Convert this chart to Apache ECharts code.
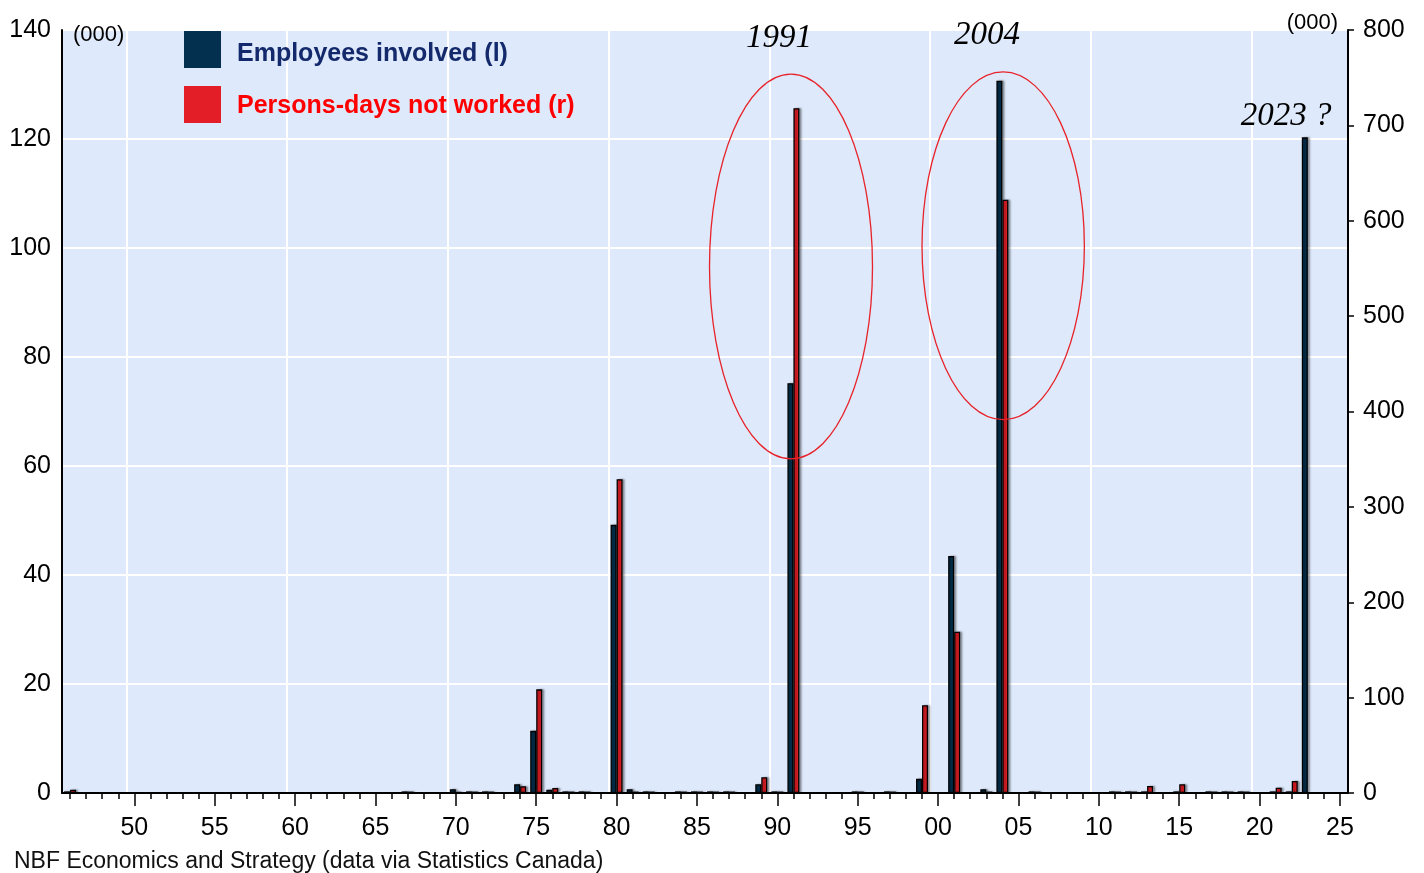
<!DOCTYPE html>
<html>
<head>
<meta charset="utf-8">
<script src="https://cdn.jsdelivr.net/npm/echarts@6/dist/echarts.min.js"></script>
<style>
html,body{margin:0;padding:0;background:#ffffff;}
#c{width:1424px;height:873px;}
</style>
</head>
<body>
<div id="c"></div>
<script>
// ---------- DATA ----------
const years = ['1946','1947','1948','1949','1950','1951','1952','1953','1954','1955',
  '1956','1957','1958','1959','1960','1961','1962','1963','1964','1965',
  '1966','1967','1968','1969','1970','1971','1972','1973','1974','1975',
  '1976','1977','1978','1979','1980','1981','1982','1983','1984','1985',
  '1986','1987','1988','1989','1990','1991','1992','1993','1994','1995',
  '1996','1997','1998','1999','2000','2001','2002','2003','2004','2005',
  '2006','2007','2008','2009','2010','2011','2012','2013','2014','2015',
  '2016','2017','2018','2019','2020','2021','2022','2023','2024','2025'];

// Employees involved, thousands (left axis)
const employees = [0.3,null,null,null,null,null,null,null,null,null,
  null,null,null,null,null,null,null,null,null,null,
  null,0.3,null,null,0.7,0.3,0.3,null,1.6,11.4,
  0.6,0.3,0.3,null,49.2,0.7,0.3,null,0.3,0.3,
  0.3,0.3,null,1.6,0.3,75.2,null,null,null,0.3,
  null,0.3,null,2.6,null,43.5,null,0.7,130.7,null,
  0.3,null,null,null,null,0.3,0.3,0.3,null,0.3,
  null,0.3,0.3,0.3,null,0.3,0.3,120.3,null,null];

// Person-days not worked, thousands (right axis)
const personDays = [3.5,null,null,null,null,null,null,null,null,null,
  null,null,null,null,null,null,null,null,null,null,
  null,1.5,null,null,1.2,1.5,1.5,null,7,108.7,
  5.2,1.5,1.5,null,329,1.5,1.5,null,1.5,1.5,
  1.5,1.5,null,16.5,1.5,718,null,null,null,1.5,
  null,1.5,null,92,null,169,null,1.5,622,null,
  1.5,null,null,null,null,1.5,1.5,7.3,null,9.1,
  null,1.5,1.5,1.5,null,5.6,12.6,null,null,null];

const seriesNames = ['Employees involved (l)', 'Persons-days not worked (r)'];
const leftTicks = {min:0, max:140, interval:20};
const rightTicks = {min:0, max:800, interval:100};
const unitLabel = '(000)';
const sourceText = 'NBF Economics and Strategy (data via Statistics Canada)';
const callouts = ['1991', '2004', '2023 ?'];

// ---------- STYLE / LAYOUT ----------
const SANS = '"Liberation Sans", Arial, sans-serif';
const SERIF = '"Liberation Serif", "Times New Roman", serif';
const NAVY = '#02304e';
const RED = '#e41e26';
const GRID = {left:62, right:76, top:30, bottom:80};

const option = {
  animation: false,
  backgroundColor: '#ffffff',
  textStyle: {fontFamily: SANS},
  grid: {
    left: GRID.left, right: GRID.right, top: GRID.top, bottom: GRID.bottom,
    show: true, backgroundColor: '#dee9fb', borderWidth: 0,
    containLabel: false, outerBoundsMode: 'none'
  },
  legend: {
    left: 184, top: 31, orient: 'vertical', padding: 0,
    itemWidth: 37, itemHeight: 37, itemGap: 18,
    icon: 'rect', selectedMode: false,
    itemStyle: {borderWidth: 0, shadowBlur: 0, shadowOffsetX: 0, shadowOffsetY: 0},
    formatter: function (name) { return (name === seriesNames[0] ? '{e|' : '{p|') + name + '}'; },
    textStyle: {
      fontSize: 25, fontWeight: 'bold', fontFamily: SANS,
      rich: {
        e: {fontSize: 25, fontWeight: 'bold', fontFamily: SANS, color: '#13296b', padding: [9, 0, 0, 11]},
        p: {fontSize: 25, fontWeight: 'bold', fontFamily: SANS, color: '#ff0000', padding: [4, 0, 0, 11]}
      }
    },
    data: [seriesNames[0], seriesNames[1]]
  },
  xAxis: [
    {
      type: 'category', data: years, position: 'bottom', boundaryGap: true,
      axisLine: {show: true, lineStyle: {color: '#000', width: 2}},
      axisTick: {show: true, alignWithLabel: true, interval: 0, length: 6, lineStyle: {color: '#000', width: 1.5}},
      axisLabel: {
        show: true, interval: function (i, v) { return (+v) % 5 === 0; },
        formatter: function (v) { return String(v).slice(2); },
        fontSize: 25, color: '#000', margin: 23, fontFamily: SANS
      },
      splitLine: {show: true, interval: function (i, v) { return (+v) % 10 === 0; },
        lineStyle: {color: '#ffffff', width: 2}}
    },
    {
      type: 'category', data: years, position: 'bottom', boundaryGap: true,
      axisLine: {show: false},
      axisTick: {show: true, alignWithLabel: true,
        interval: function (i, v) { return (+v) % 5 === 0; },
        length: 13, lineStyle: {color: '#000', width: 1.5}},
      axisLabel: {show: false},
      splitLine: {show: false}
    }
  ],
  yAxis: [
    {
      type: 'value', position: 'left',
      min: leftTicks.min, max: leftTicks.max, interval: leftTicks.interval,
      axisLine: {show: true, lineStyle: {color: '#000', width: 2}},
      axisTick: {show: false},
      axisLabel: {fontSize: 25, color: '#000', margin: 11, fontFamily: SANS},
      splitLine: {show: true, lineStyle: {color: '#ffffff', width: 2}}
    },
    {
      type: 'value', position: 'right',
      min: rightTicks.min, max: rightTicks.max, interval: rightTicks.interval,
      axisLine: {show: true, lineStyle: {color: '#000', width: 2}},
      axisTick: {show: true, inside: false, length: 6, lineStyle: {color: '#000', width: 1.5}},
      axisLabel: {fontSize: 25, color: '#000', margin: 15, fontFamily: SANS},
      splitLine: {show: false}
    }
  ],
  series: [
    {
      name: seriesNames[0], type: 'bar', xAxisIndex: 0, yAxisIndex: 0,
      data: employees, barWidth: 6, barGap: '0%',
      itemStyle: {color: NAVY, borderColor: '#000', borderWidth: 1.3,
        shadowColor: 'rgba(0,0,0,0.35)', shadowBlur: 2, shadowOffsetX: 2, shadowOffsetY: 0}
    },
    {
      name: seriesNames[1], type: 'bar', xAxisIndex: 0, yAxisIndex: 1,
      data: personDays, barWidth: 6, barGap: '0%',
      itemStyle: {color: RED, borderColor: '#000', borderWidth: 1.3,
        shadowColor: 'rgba(0,0,0,0.35)', shadowBlur: 2, shadowOffsetX: 2, shadowOffsetY: 0}
    }
  ]
};

const chart = echarts.init(document.getElementById('c'), null, {renderer: 'canvas', width: 1424, height: 873});
chart.setOption(option);

// ---------- ANNOTATIONS (positioned in data space, converted by the chart) ----------
function px(cat, v) { return chart.convertToPixel({xAxisIndex: 0, yAxisIndex: 0}, [cat, v]); }
const band = px('1992', 0)[0] - px('1991', 0)[0];
const unit = px('1991', 0)[1] - px('1991', 1)[1];
function at(cat, dx, v) { const p = px(cat, v); return [p[0] + dx * band, p[1]]; }

const ellipseSpecs = [
  {cat: '1991', dx: -0.15, v: 96.6, rx: 5.07, ry: 35.3},
  {cat: '2004', dx: 0.05, v: 100.4, rx: 5.05, ry: 31.9}
];
const textSpecs = [
  {text: callouts[0], cat: '1991', dx: -0.9, v: 138.5},
  {text: callouts[1], cat: '2004', dx: -0.95, v: 139.0},
  {text: callouts[2], cat: '2023', dx: -1.35, v: 124.2}
];

const graphics = [];
ellipseSpecs.forEach(function (e) {
  const c = at(e.cat, e.dx, e.v);
  graphics.push({
    type: 'ellipse', z: 50, silent: true,
    shape: {cx: c[0], cy: c[1], rx: e.rx * band, ry: e.ry * unit},
    style: {fill: 'none', stroke: '#e8232a', lineWidth: 1.3}
  });
});
textSpecs.forEach(function (t) {
  const c = at(t.cat, t.dx, t.v);
  graphics.push({
    type: 'text', z: 60, silent: true,
    style: {text: t.text, x: c[0], y: c[1], font: 'italic 33px ' + SERIF, fill: '#000',
      textAlign: 'center', textVerticalAlign: 'middle', align: 'center', verticalAlign: 'middle'}
  });
});
const topLeft = chart.convertToPixel({xAxisIndex: 0, yAxisIndex: 0}, [years[0], leftTicks.max]);
const topRight = chart.convertToPixel({xAxisIndex: 0, yAxisIndex: 1}, [years[years.length - 1], rightTicks.max]);
graphics.push({
  type: 'text', z: 60, silent: true,
  style: {text: unitLabel, x: GRID.left + 11, y: topLeft[1] + 5, font: '22px ' + SANS, fill: '#000',
    textAlign: 'left', textVerticalAlign: 'middle', align: 'left', verticalAlign: 'middle'}
});
graphics.push({
  type: 'text', z: 60, silent: true,
  style: {text: unitLabel, x: 1424 - GRID.right - 10, y: topRight[1] - 7, font: '22px ' + SANS, fill: '#000',
    textAlign: 'right', textVerticalAlign: 'middle', align: 'right', verticalAlign: 'middle'}
});
graphics.push({
  type: 'text', z: 60, silent: true,
  style: {text: sourceText, x: 14, y: 862, font: '23px ' + SANS, fill: '#111',
    textAlign: 'left', textVerticalAlign: 'middle', align: 'left', verticalAlign: 'middle'}
});
chart.setOption({graphic: {elements: graphics}});
</script>
</body>
</html>
